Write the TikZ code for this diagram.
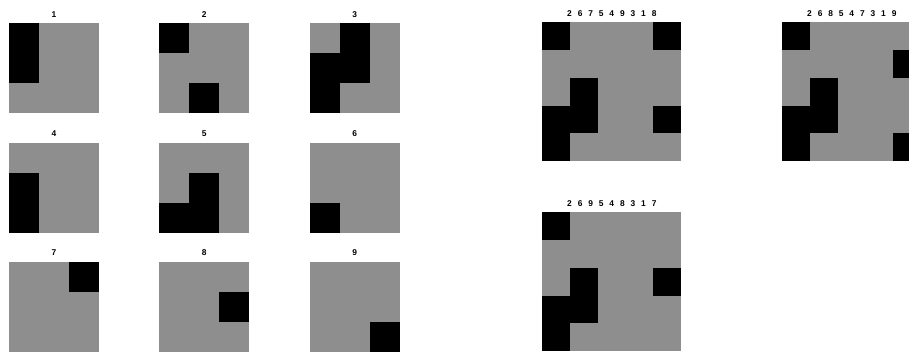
\documentclass[tikz,border=0pt]{standalone}
\usepackage{fontspec}
\setmainfont{Liberation Sans}
\usepackage{tikz}
\definecolor{cellgray}{HTML}{8E8E8E}
\newcommand{\lblfont}{\fontsize{8.4}{10}\selectfont\bfseries\spaceskip=5.9pt\relax}
% #1,#2 top left corner, #3 cell size, #4 cells per side, #5 black cells as row/col
\newcommand{\gridpanel}[5]{%
  \fill[cellgray] (#1,#2) rectangle ++(#4*#3,#4*#3);
  \foreach \r/\c in {#5}
    \fill[black] ({#1+(\c-1)*#3},{#2+(\r-1)*#3}) rectangle ++(#3,#3);
}

\begin{document}
\begin{tikzpicture}[x=1pt, y=-1pt,
  lbl/.style={font=\lblfont, inner sep=0pt, anchor=center}]
\useasboundingbox (0,0) rectangle (909,352);
\clip (0,0) rectangle (909,352);

% the nine single patterns
\gridpanel{9}{23.3}{30}{3}{1/1,2/1}
\gridpanel{159.3}{23.3}{30}{3}{1/1,3/2}
\gridpanel{309.7}{23.3}{30}{3}{1/2,2/1,2/2,3/1}
\gridpanel{9}{142.6}{30}{3}{2/1,3/1}
\gridpanel{159.3}{142.6}{30}{3}{2/2,3/1,3/2}
\gridpanel{309.7}{142.6}{30}{3}{3/1}
\gridpanel{9}{261.8}{30}{3}{1/3}
\gridpanel{159.3}{261.8}{30}{3}{2/3}
\gridpanel{309.7}{261.8}{30}{3}{3/3}
\node[lbl] (n1) at (54,14.3) {1};
\node[lbl] (n2) at (204.3,14.3) {2};
\node[lbl] (n3) at (354.7,14.3) {3};
\node[lbl] (n4) at (54,133.6) {4};
\node[lbl] (n5) at (204.3,133.6) {5};
\node[lbl] (n6) at (354.7,133.6) {6};
\node[lbl] (n7) at (54,252.8) {7};
\node[lbl] (n8) at (204.3,252.8) {8};
\node[lbl] (n9) at (354.7,252.8) {9};

% the three orderings
\gridpanel{542.3}{22.3}{27.75}{5}{1/1,1/5,3/2,4/1,4/2,4/5,5/1}
\gridpanel{782.3}{22.3}{27.75}{5}{1/1,2/5,3/2,4/1,4/2,5/1,5/5}
\gridpanel{542.3}{212.3}{27.75}{5}{1/1,3/2,3/5,4/1,4/2,5/1}
\node[lbl] (seqa) at (611.8,13.3) {2 6 7 5 4 9 3 1 8};
\node[lbl] (seqb) at (851.8,13.3) {2 6 8 5 4 7 3 1 9};
\node[lbl] (seqc) at (611.8,203.3) {2 6 9 5 4 8 3 1 7};
\end{tikzpicture}
\end{document}
